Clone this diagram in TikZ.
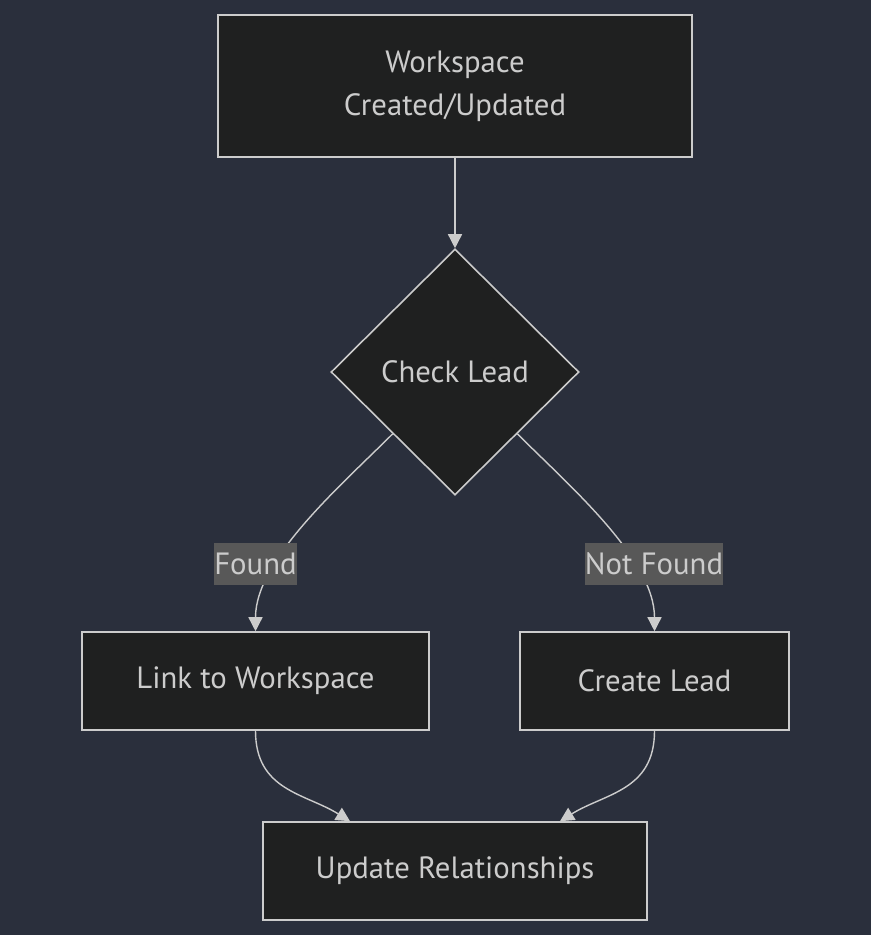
\documentclass[tikz,border=0pt]{standalone}
\usepackage{fontspec}
\setmainfont{PT Sans}
\usetikzlibrary{shapes.geometric,arrows.meta}
\definecolor{bgdark}{HTML}{2A2F3C}
\definecolor{nodefill}{HTML}{1F2020}
\definecolor{linegrey}{HTML}{CCCCCC}
\definecolor{labelgrey}{HTML}{585858}

\begin{document}
\begin{tikzpicture}[x=0.02cm,y=-0.02cm,
  box/.style={draw=linegrey,fill=nodefill,line width=0.9pt,text=linegrey,
    minimum height=1.96cm,inner sep=0pt,font=\fontsize{17.5}{24.4}\selectfont,align=center},
  decision/.style={diamond,draw=linegrey,fill=nodefill,line width=0.9pt,text=linegrey,
    minimum width=4.96cm,minimum height=4.92cm,inner sep=0pt,font=\fontsize{17.5}{24.4}\selectfont},
  edgelabel/.style={fill=labelgrey,text=linegrey,inner sep=0pt,minimum height=0.84cm,
    font=\fontsize{17.5}{24.4}\selectfont},
  flow/.style={draw=linegrey,line width=0.8pt,-{Triangle[length=8pt,width=8pt]}}]
  \fill[bgdark](0,0) rectangle (871,935);
  \useasboundingbox (0,0) rectangle (871,935);
  \node[box,minimum width=9.48cm,minimum height=2.84cm] at(455,86)(ws){Workspace\\Created/Updated};
  \node[decision] at(455,372)(chk){Check Lead};
  \node[box,minimum width=6.94cm] at(255.5,681)(link){Link to Workspace};
  \node[box,minimum width=5.38cm] at(654.5,681)(lead){Create Lead};
  \node[box,minimum width=7.68cm] at(455,871)(upd){Update Relationships};
  \draw[flow](ws) -- (chk);
  \draw[flow](chk.south west) .. controls +(-52,52) and +(0,-72) .. (link.north);
  \draw[flow](chk.south east) .. controls +(52,52) and +(0,-72) .. (lead.north);
  \draw[flow](link.south) .. controls +(0,60) and +(-45,-28) .. ([xshift=-2.1cm]upd.north);
  \draw[flow](lead.south) .. controls +(0,60) and +(45,-28) .. ([xshift=2.1cm]upd.north);
  \node[edgelabel,minimum width=1.54cm] at(255.5,564)(found){Found};
  \node[edgelabel,minimum width=2.64cm] at(654,564)(notfound){Not Found};
\end{tikzpicture}
\end{document}
